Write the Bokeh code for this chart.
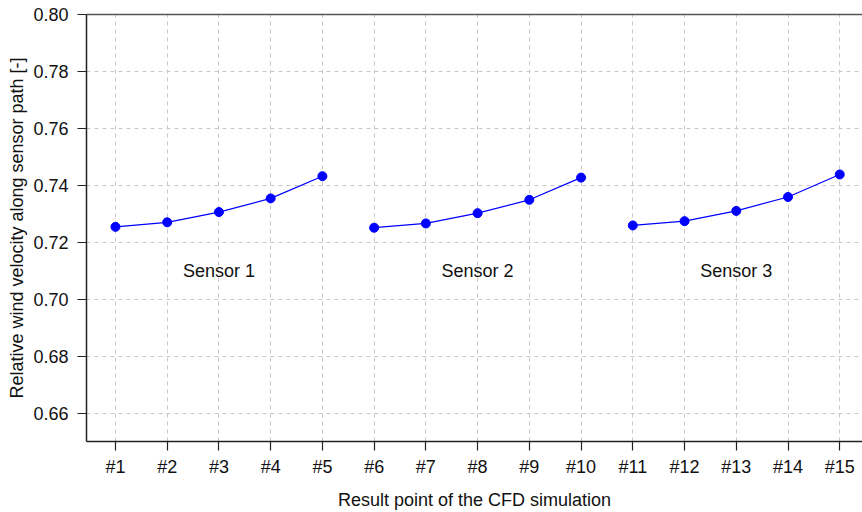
from bokeh.plotting import figure
from bokeh.models import Range1d, FixedTicker, LinearAxis, ColumnDataSource
from bokeh.core.properties import value
from bokeh.embed import file_html
from bokeh.resources import INLINE

# Result points along each sensor path
points = list(range(1, 16))
point_labels = ["#%d" % i for i in points]

sensor_1 = [0.7254, 0.7270, 0.7306, 0.7354, 0.7432]
sensor_2 = [0.7251, 0.7266, 0.7302, 0.7349, 0.7427]
sensor_3 = [0.7259, 0.7274, 0.7310, 0.7359, 0.7438]

sensor_names = ["Sensor 1", "Sensor 2", "Sensor 3"]
sensor_label_x = [3, 8, 13]
sensor_label_y = [0.71, 0.71, 0.71]

y_ticks = [0.66, 0.68, 0.70, 0.72, 0.74, 0.76, 0.78, 0.80]

FONT = "Liberation Sans"
FONT_SIZE = "18px"
AXIS_COLOR = "#222222"

p = figure(
    width=862, height=512,
    x_range=Range1d(0.44, 15.44), y_range=Range1d(0.65, 0.80),
    output_backend="svg", toolbar_location=None,
    min_border_left=86, min_border_right=0, min_border_top=14, min_border_bottom=71,
)
p.outline_line_color = None
p.background_fill_color = "white"
p.border_fill_color = "white"

# grid
p.xgrid.ticker = FixedTicker(ticks=points)
p.ygrid.ticker = FixedTicker(ticks=y_ticks)
for g in (p.xgrid[0], p.ygrid[0]):
    g.grid_line_color = "#c8c8c8"
    g.grid_line_dash = "4 4"
    g.grid_line_width = 1

# x axis
xa = p.xaxis[0]
xa.ticker = FixedTicker(ticks=points)
xa.major_label_overrides = {i: lab for i, lab in zip(points, point_labels)}
xa.axis_label = "Result point of the CFD simulation"
xa.major_tick_out = 9
xa.major_tick_in = 0
xa.minor_tick_out = 0
xa.minor_tick_in = 0
xa.major_label_standoff = 6
xa.axis_label_standoff = 10

# y axis
ya = p.yaxis[0]
ya.ticker = FixedTicker(ticks=y_ticks)
ya.major_label_overrides = {t: "%.2f" % t for t in y_ticks}
ya.axis_label = "Relative wind velocity along sensor path [-]"
ya.major_tick_out = 9
ya.major_tick_in = 0
ya.minor_tick_out = 0
ya.minor_tick_in = 0
ya.major_label_standoff = 9
ya.axis_label_standoff = 3
ya.major_label_orientation = "horizontal"

for ax in (xa, ya):
    ax.axis_line_color = AXIS_COLOR
    ax.axis_line_width = 1.5
    ax.major_tick_line_color = AXIS_COLOR
    ax.major_tick_line_width = 1.2
    ax.major_label_text_font = FONT
    ax.major_label_text_font_size = FONT_SIZE
    ax.major_label_text_color = "#111111"
    ax.axis_label_text_font = FONT
    ax.axis_label_text_font_size = FONT_SIZE
    ax.axis_label_text_font_style = "normal"
    ax.axis_label_text_color = "#111111"

# top border line
top = LinearAxis(ticker=FixedTicker(ticks=[]))
top.major_tick_out = 0
top.major_tick_in = 0
top.minor_tick_out = 0
top.minor_tick_in = 0
top.major_label_text_font_size = "0px"
top.axis_line_color = "#555555"
top.axis_line_width = 1.5
p.add_layout(top, "above")

# series
for xs, ys in ((points[0:5], sensor_1), (points[5:10], sensor_2), (points[10:15], sensor_3)):
    src = ColumnDataSource(dict(x=xs, y=ys))
    p.line("x", "y", source=src, line_color="blue", line_width=1.2)
    p.scatter("x", "y", source=src, size=9, fill_color="blue", line_color="blue")

lab_src = ColumnDataSource(dict(x=sensor_label_x, y=sensor_label_y, t=sensor_names))
p.text("x", "y", text="t", source=lab_src, text_font=value(FONT), text_font_size=FONT_SIZE,
       text_align="center", text_baseline="middle", text_color="#111111")

open("out.html", "w").write(file_html(p, INLINE))
